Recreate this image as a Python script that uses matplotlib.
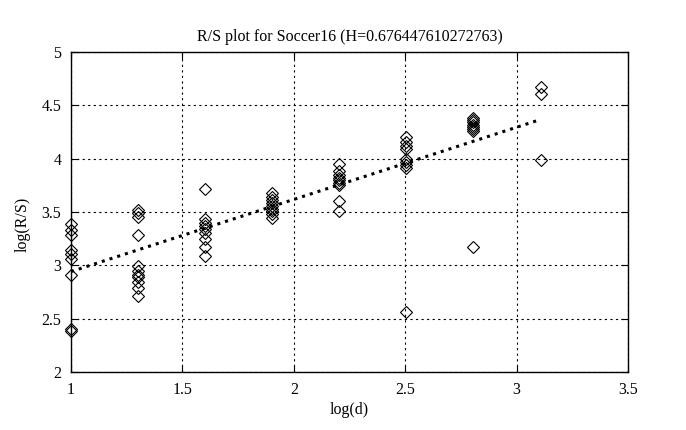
import numpy as np
import matplotlib
matplotlib.use("Agg")
import matplotlib.pyplot as plt

plt.rcParams['font.family'] = ['Liberation Serif', 'DejaVu Serif']

# log10 of the window sizes d = 10, 20, 40, ... 1280
log_d = np.log10([10, 20, 40, 80, 160, 320, 640, 1280])

# log(R/S) values read for each window size
rs_10 = [3.39, 3.33, 3.28, 3.14, 3.11, 3.06, 2.91, 2.40, 2.38]
rs_20 = [3.52, 3.49, 3.45, 3.28, 2.99, 2.95, 2.91, 2.89, 2.84, 2.79, 2.71]
rs_40 = [3.72, 3.43, 3.40, 3.37, 3.34, 3.30, 3.25, 3.17, 3.09]
rs_80 = [3.68, 3.64, 3.61, 3.58, 3.56, 3.53, 3.51, 3.48, 3.44]
rs_160 = [3.95, 3.88, 3.85, 3.82, 3.80, 3.77, 3.75, 3.60, 3.51]
rs_320 = [4.20, 4.16, 4.12, 4.09, 4.00, 3.97, 3.94, 3.91, 2.56]
rs_640 = [4.38, 4.36, 4.34, 4.32, 4.30, 4.28, 4.26, 3.17]
rs_1280 = [4.67, 4.61, 3.99]

H = 0.676447610272763
intercept = 2.265

groups = [rs_10, rs_20, rs_40, rs_80, rs_160, rs_320, rs_640, rs_1280]

fig = plt.figure(figsize=(6.86, 4.30), dpi=100)
ax = fig.add_axes([0.1035, 0.1349, 0.8120, 0.7442])

for xv, ys in zip(log_d, groups):
    ax.plot([xv] * len(ys), ys, linestyle='none', marker='D', markersize=6.5,
            markerfacecolor='none', markeredgecolor='black', markeredgewidth=0.8,
            clip_on=False, zorder=3)

xl = np.array([log_d[0], log_d[-1]])
ax.plot(xl, intercept + H * xl, color='black', linestyle=':', linewidth=2.2, zorder=4)

ax.set_xlim(1, 3.5)
ax.set_ylim(2, 5)
ax.set_xticks([1, 1.5, 2, 2.5, 3, 3.5])
ax.set_xticklabels(['1', '1.5', '2', '2.5', '3', '3.5'])
ax.set_yticks([2, 2.5, 3, 3.5, 4, 4.5, 5])
ax.set_yticklabels(['2', '2.5', '3', '3.5', '4', '4.5', '5'])
ax.grid(True, color='black', linestyle=(0, (2, 3)), linewidth=0.8)
ax.tick_params(direction='in', top=True, right=True, length=5, labelsize=11.5, pad=7)
for s in ax.spines.values():
    s.set_linewidth(1.0)

ax.set_title('R/S plot for Soccer16 (H=0.676447610272763)', fontsize=11.5, pad=8)
ax.set_xlabel('log(d)', fontsize=11.5, labelpad=3)
ax.set_ylabel('log(R/S)', fontsize=11.5)
ax.yaxis.set_label_coords(-0.073, 0.46)

fig.savefig('out.png', dpi=100)
